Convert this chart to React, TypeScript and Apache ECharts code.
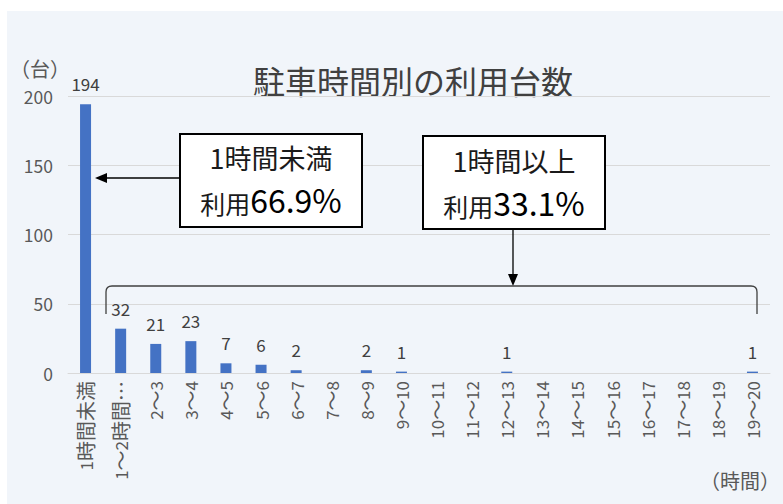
import React, { useEffect, useRef } from "react";
import * as echarts from "echarts";

const categories = [
  "1時間未満", "1～2時間…", "2～3", "3～4", "4～5", "5～6", "6～7", "7～8", "8～9", "9～10",
  "10～11", "11～12", "12～13", "13～14", "14～15", "15～16", "16～17", "17～18", "18～19", "19～20",
];
const counts: (number | null)[] = [194, 32, 21, 23, 7, 6, 2, null, 2, 1, null, null, 1, null, null, null, null, null, null, 1];
const yMin = 0;
const yMax = 200;
const yInterval = 50;
const titleText = "駐車時間別の利用台数";
const yUnit = "（台）";
const xUnit = "（時間）";
const noteUnder = { line1: "1時間未満", pre: "利用", pct: "66.9%" };
const noteOver = { line1: "1時間以上", pre: "利用", pct: "33.1%" };

const FONT = "'Noto Sans CJK JP', 'Noto Sans', sans-serif";
const BRACKET_D = "M106 314 L106 292 Q106 286 112 286 L751 286 Q757 286 757 292 L757 314";

let registered = false;
function ensureShapes() {
  if (registered) return;
  echarts.graphic.registerShape("bracket", echarts.graphic.extendPath(BRACKET_D, {}) as any);
  registered = true;
}

function richLabel(v: string) {
  return v.replace(/([\u3000-\u9fff\uff00-\uffef…]+)/g, "{j|$1}");
}

function noteText(x: number, y1: number, y2: number, n: { line1: string; pre: string; pct: string }) {
  return [
    {
      type: "text",
      x,
      y: y1,
      z: 20,
      style: {
        text: n.line1,
        fontSize: 27,
        fontFamily: FONT,
        fill: "#1a1a1a",
        align: "center",
        verticalAlign: "middle",
      },
    },
    {
      type: "text",
      x,
      y: y2,
      z: 20,
      style: {
        text: `{a|${n.pre}}{b|${n.pct}}`,
        align: "center",
        verticalAlign: "middle",
        rich: {
          a: { fontSize: 25, fontFamily: FONT, fill: "#1a1a1a", color: "#1a1a1a", verticalAlign: "bottom" },
          b: { fontSize: 32, fontFamily: FONT, fill: "#000", color: "#000", verticalAlign: "bottom" },
        },
      },
    },
  ];
}

export default function App() {
  const ref = useRef<HTMLDivElement>(null);
  useEffect(() => {
    if (!ref.current) return;
    ensureShapes();
    const chart = echarts.init(ref.current, undefined, { renderer: "svg" });
    chart.setOption({
      animation: false,
      textStyle: { fontFamily: FONT },
      grid: { left: 68, right: 13, top: 96, bottom: 131, containLabel: false },
      xAxis: {
        type: "category",
        data: categories,
        axisLine: { lineStyle: { color: "#d9d9d9", width: 1 } },
        axisTick: { show: false },
        axisLabel: {
          rotate: 90,
          interval: 0,
          margin: 8,
          fontSize: 17,
          color: "#595959",
          fontFamily: FONT,
          formatter: (v: string) => richLabel(v),
          rich: { j: { fontSize: 20, color: "#595959", fontFamily: FONT } },
        },
      },
      yAxis: {
        type: "value",
        min: yMin,
        max: yMax,
        interval: yInterval,
        axisLine: { show: false },
        axisTick: { show: false },
        splitLine: { lineStyle: { color: "#d9d9d9", width: 1 } },
        axisLabel: { fontSize: 17.5, color: "#595959", margin: 15, fontFamily: FONT },
      },
      series: [
        {
          type: "bar",
          data: counts,
          barWidth: 11,
          itemStyle: { color: "#4472c4" },
          label: {
            show: true,
            position: "top",
            distance: 12,
            fontSize: 17,
            color: "#404040",
            fontFamily: FONT,
          },
        },
      ],
      graphic: [
        {
          type: "text",
          x: 413,
          y: 80,
          style: {
            text: titleText,
            fontSize: 32,
            fontFamily: FONT,
            fill: "#404040",
            align: "center",
            verticalAlign: "middle",
          },
        },
        {
          type: "text",
          x: 40,
          y: 68,
          style: { text: yUnit, fontSize: 20, fontFamily: FONT, fill: "#595959", align: "center", verticalAlign: "middle" },
        },
        {
          type: "text",
          x: 780,
          y: 480,
          style: { text: xUnit, fontSize: 20, fontFamily: FONT, fill: "#595959", align: "right", verticalAlign: "middle" },
        },
        // box 1
        {
          type: "rect",
          z: 10,
          shape: { x: 180, y: 134, width: 182, height: 93 },
          style: { fill: "#ffffff", stroke: "#000000", lineWidth: 2 },
        },
        ...noteText(271, 157, 199, noteUnder),
        {
          type: "line",
          z: 10,
          shape: { x1: 180, y1: 178, x2: 104, y2: 178 },
          style: { stroke: "#000", lineWidth: 1.3 },
        },
        {
          type: "polygon",
          z: 10,
          shape: { points: [[95, 178], [107, 173], [107, 183]] },
          style: { fill: "#000" },
        },
        // box 2
        {
          type: "rect",
          z: 10,
          shape: { x: 423, y: 136, width: 182, height: 93 },
          style: { fill: "#ffffff", stroke: "#000000", lineWidth: 2 },
        },
        ...noteText(514, 160, 202, noteOver),
        {
          type: "line",
          z: 10,
          shape: { x1: 513, y1: 229, x2: 513, y2: 276 },
          style: { stroke: "#000", lineWidth: 1.3 },
        },
        {
          type: "polygon",
          z: 10,
          shape: { points: [[513, 286], [508, 274], [518, 274]] },
          style: { fill: "#000" },
        },
        {
          type: "bracket",
          z: 10,
          x: 0,
          y: 0,
          style: { fill: "none", stroke: "#404040", lineWidth: 1.3 },
        },
      ],
    });
    return () => chart.dispose();
  }, []);

  return (
    <>
      <div
        style={{ position: "absolute", left: 7, top: 11, width: 776, height: 493, background: "#f1f5fa" }}
      />
      <div ref={ref} style={{ position: "absolute", left: 0, top: 0, width: 783, height: 504 }} />
    </>
  );
}
